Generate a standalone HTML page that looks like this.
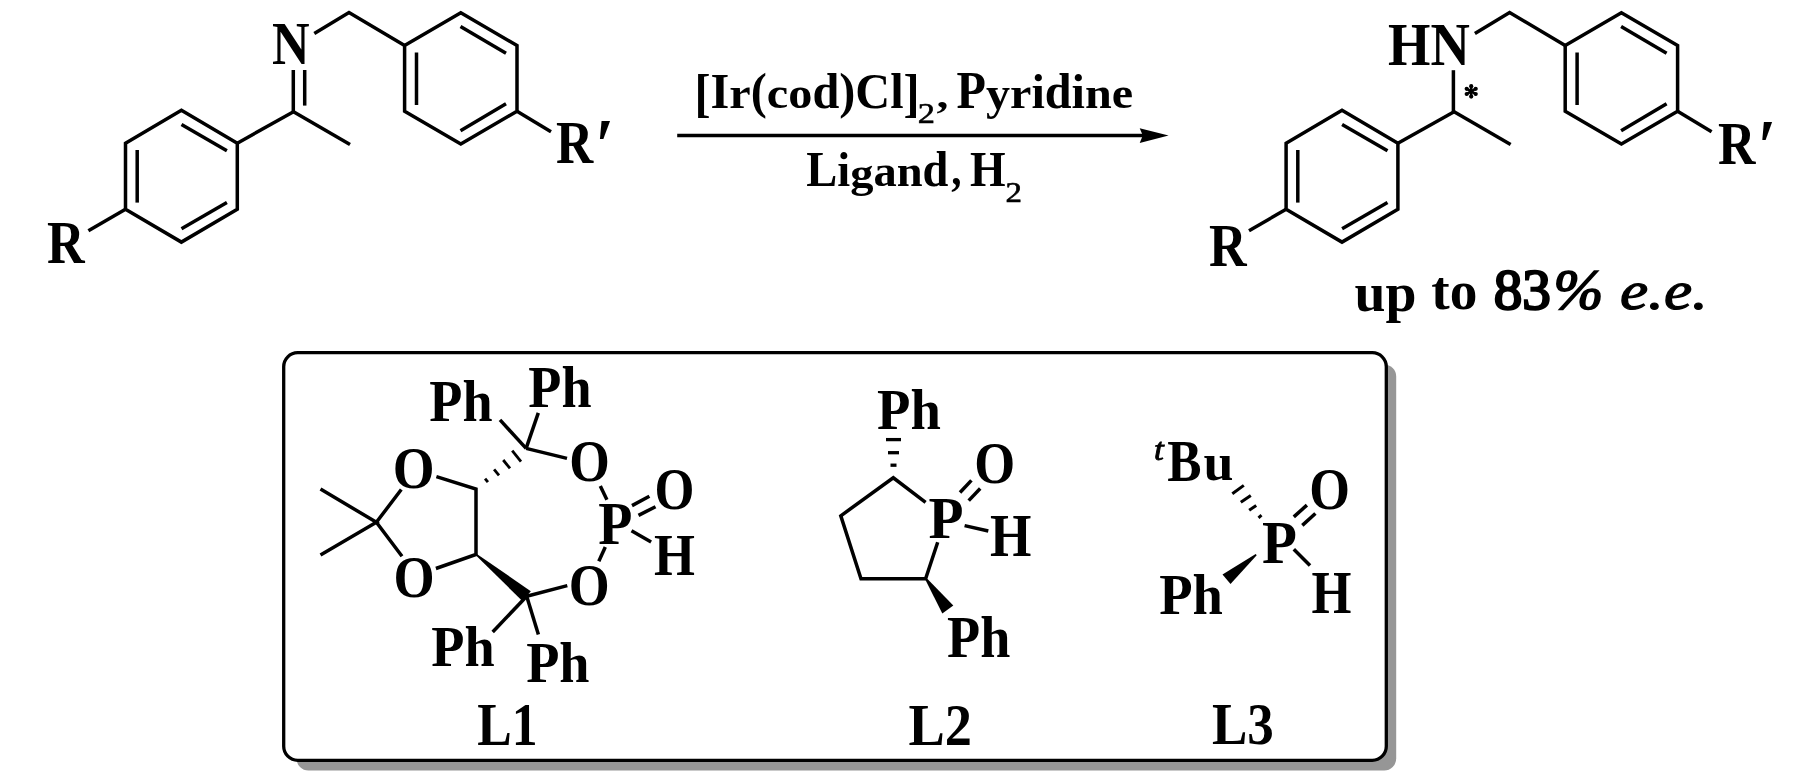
<!DOCTYPE html>
<html><head><meta charset="utf-8"><style>
html,body{margin:0;padding:0;background:#fff;overflow:hidden;width:1819px;height:780px;}
svg{display:block;will-change:transform;}
text{font-family:"Liberation Serif", serif;fill:#000;stroke:none;}
</style></head><body>
<svg width="1819" height="780" viewBox="0 0 1819 780">
<rect x="0" y="0" width="1819" height="780" fill="#fff"/>
<g stroke="#000" fill="none">
<rect x="296.5" y="364.5" width="1099.7" height="406" rx="12" ry="12" fill="#969696" stroke="none"/><rect x="283.7" y="352.7" width="1102.6" height="407.6" rx="14" ry="14" fill="#fff" stroke="#000" stroke-width="3.3"/>
<polygon points="181.4,110.3 237.3,143.2 237.3,209.2 181.4,242.1 125.5,209.2 125.5,143.2" fill="none" stroke-width="3.5" stroke-linejoin="miter"/>
<line x1="137.2" y1="150.0" x2="137.2" y2="202.6" stroke-width="3.5" stroke-linecap="butt"/>
<line x1="181.5" y1="124.4" x2="226.9" y2="150.8" stroke-width="3.5" stroke-linecap="butt"/>
<line x1="181.5" y1="228.7" x2="226.9" y2="202.6" stroke-width="3.5" stroke-linecap="butt"/>
<polygon points="460.8,12.8 517.0,45.6 517.0,111.2 460.8,144.0 404.6,111.2 404.6,45.6" fill="none" stroke-width="3.5" stroke-linejoin="miter"/>
<line x1="416.5" y1="52.5" x2="416.5" y2="105.0" stroke-width="3.5" stroke-linecap="butt"/>
<line x1="460.5" y1="26.4" x2="506.0" y2="53.3" stroke-width="3.5" stroke-linecap="butt"/>
<line x1="460.5" y1="130.8" x2="506.0" y2="103.8" stroke-width="3.5" stroke-linecap="butt"/>
<line x1="125.5" y1="209.2" x2="88.4" y2="230.8" stroke-width="3.5" stroke-linecap="butt"/>
<line x1="517.0" y1="111.2" x2="551.0" y2="131.7" stroke-width="3.5" stroke-linecap="butt"/>
<line x1="237.3" y1="143.2" x2="293.5" y2="111.8" stroke-width="3.5" stroke-linecap="butt"/>
<line x1="293.5" y1="111.8" x2="350.0" y2="144.5" stroke-width="3.5" stroke-linecap="butt"/>
<polyline points="314.3,33.5 349.0,12.5 404.6,45.6" fill="none" stroke-width="3.5" stroke-linejoin="miter"/>
<line x1="293.3" y1="70.0" x2="293.3" y2="112.5" stroke-width="3.5" stroke-linecap="butt"/>
<line x1="304.7" y1="70.0" x2="304.7" y2="105.6" stroke-width="3.5" stroke-linecap="butt"/>
<text transform="translate(272.01,64.00) scale(0.8496,1)" font-size="61.24" font-weight="bold" font-style="normal">N</text>
<text transform="translate(46.91,263.10) scale(0.8530,1)" font-size="61.09" font-weight="bold" font-style="normal">R</text>
<text transform="translate(556.12,162.80) scale(0.8460,1)" font-size="60.94" font-weight="bold" font-style="normal">R</text>
<text transform="translate(595.56,171.18) scale(0.8791,1)" font-size="76.64" font-weight="bold" font-style="normal">′</text>
<polygon points="1342.0,110.3 1397.9,143.2 1397.9,209.2 1342.0,242.1 1286.1,209.2 1286.1,143.2" fill="none" stroke-width="3.5" stroke-linejoin="miter"/>
<line x1="1297.8" y1="150.0" x2="1297.8" y2="202.6" stroke-width="3.5" stroke-linecap="butt"/>
<line x1="1342.1" y1="124.4" x2="1387.5" y2="150.8" stroke-width="3.5" stroke-linecap="butt"/>
<line x1="1342.1" y1="228.7" x2="1387.5" y2="202.6" stroke-width="3.5" stroke-linecap="butt"/>
<polygon points="1621.4,12.8 1677.6,45.6 1677.6,111.2 1621.4,144.0 1565.2,111.2 1565.2,45.6" fill="none" stroke-width="3.5" stroke-linejoin="miter"/>
<line x1="1577.1" y1="52.5" x2="1577.1" y2="105.0" stroke-width="3.5" stroke-linecap="butt"/>
<line x1="1621.1" y1="26.4" x2="1666.6" y2="53.3" stroke-width="3.5" stroke-linecap="butt"/>
<line x1="1621.1" y1="130.8" x2="1666.6" y2="103.8" stroke-width="3.5" stroke-linecap="butt"/>
<line x1="1286.1" y1="209.2" x2="1249.0" y2="230.8" stroke-width="3.5" stroke-linecap="butt"/>
<line x1="1677.6" y1="111.2" x2="1711.6" y2="131.7" stroke-width="3.5" stroke-linecap="butt"/>
<line x1="1397.9" y1="143.2" x2="1454.1" y2="111.8" stroke-width="3.5" stroke-linecap="butt"/>
<line x1="1454.1" y1="111.8" x2="1510.6" y2="144.5" stroke-width="3.5" stroke-linecap="butt"/>
<polyline points="1474.9,33.5 1509.6,12.5 1565.2,45.6" fill="none" stroke-width="3.5" stroke-linejoin="miter"/>
<line x1="1453.4" y1="70.2" x2="1453.4" y2="112.5" stroke-width="3.5" stroke-linecap="butt"/>
<text transform="translate(1388.07,65.20) scale(0.8833,1)" font-size="61.70" font-weight="bold" font-style="normal">HN</text>
<line x1="1471.2" y1="85.1" x2="1471.2" y2="97.7" stroke-width="2.6" stroke-linecap="butt"/>
<circle cx="1471.20" cy="96.60" r="2.1" fill="#000" stroke="none"/>
<circle cx="1471.20" cy="86.20" r="2.1" fill="#000" stroke="none"/>
<line x1="1465.7" y1="88.2" x2="1476.7" y2="94.6" stroke-width="2.6" stroke-linecap="butt"/>
<circle cx="1475.70" cy="94.00" r="2.1" fill="#000" stroke="none"/>
<circle cx="1466.70" cy="88.80" r="2.1" fill="#000" stroke="none"/>
<line x1="1476.7" y1="88.2" x2="1465.7" y2="94.6" stroke-width="2.6" stroke-linecap="butt"/>
<circle cx="1466.70" cy="94.00" r="2.1" fill="#000" stroke="none"/>
<circle cx="1475.70" cy="88.80" r="2.1" fill="#000" stroke="none"/>
<text transform="translate(1209.01,265.80) scale(0.8616,1)" font-size="60.48" font-weight="bold" font-style="normal">R</text>
<text transform="translate(1718.11,163.80) scale(0.8527,1)" font-size="60.78" font-weight="bold" font-style="normal">R</text>
<text transform="translate(1757.89,171.80) scale(0.8578,1)" font-size="76.21" font-weight="bold" font-style="normal">′</text>
<line x1="677.2" y1="135.5" x2="1145.0" y2="135.5" stroke-width="3.3" stroke-linecap="butt"/>
<polygon points="1168.6,135.5 1139.7,128.2 1142.8,135.5 1139.7,143.0" fill="#000" stroke="none"/>
<text transform="translate(694.42,110.82) scale(0.9411,1.0313)" font-size="51.31" font-weight="bold" font-style="normal">[</text>
<text transform="translate(710.50,107.70) scale(0.9411,1.0000)" font-size="51.31" font-weight="bold" font-style="normal">I</text>
<text transform="translate(729.29,107.70) scale(0.9411,0.8558)" font-size="51.31" font-weight="bold" font-style="normal">r</text>
<text transform="translate(750.72,107.84) scale(0.9411,1.0037)" font-size="51.31" font-weight="bold" font-style="normal">(</text>
<text transform="translate(766.80,107.70) scale(0.9411,0.8603)" font-size="51.31" font-weight="bold" font-style="normal">c</text>
<text transform="translate(788.23,107.70) scale(0.9411,0.8603)" font-size="51.31" font-weight="bold" font-style="normal">o</text>
<text transform="translate(812.38,107.70) scale(0.9411,0.9915)" font-size="51.31" font-weight="bold" font-style="normal">d</text>
<text transform="translate(839.23,107.84) scale(0.9411,1.0037)" font-size="51.31" font-weight="bold" font-style="normal">)</text>
<text transform="translate(855.31,107.70) scale(0.9411,0.9890)" font-size="51.31" font-weight="bold" font-style="normal">C</text>
<text transform="translate(890.19,107.70) scale(0.9411,0.9915)" font-size="51.31" font-weight="bold" font-style="normal">l</text>
<text transform="translate(903.60,110.82) scale(0.9411,1.0313)" font-size="51.31" font-weight="bold" font-style="normal">]</text>
<text transform="translate(917.74,122.85) scale(1.1689,1)" font-size="29.45" font-weight="normal" font-style="normal" style="stroke:#000;stroke-width:0.60px">2</text>
<text transform="translate(936.57,107.90) scale(1.2766,1)" font-size="37.45" font-weight="bold" font-style="normal">,</text>
<text transform="translate(956.58,107.70) scale(0.9302,1.0000)" font-size="51.77" font-weight="bold" font-style="normal">P</text>
<text transform="translate(985.99,108.60) scale(0.9302,0.9131)" font-size="51.77" font-weight="bold" font-style="normal">y</text>
<text transform="translate(1010.07,107.70) scale(0.9302,0.8483)" font-size="51.77" font-weight="bold" font-style="normal">r</text>
<text transform="translate(1031.45,107.70) scale(0.9302,0.9354)" font-size="51.77" font-weight="bold" font-style="normal">i</text>
<text transform="translate(1044.83,107.70) scale(0.9302,0.9827)" font-size="51.77" font-weight="bold" font-style="normal">d</text>
<text transform="translate(1071.61,107.70) scale(0.9302,0.9354)" font-size="51.77" font-weight="bold" font-style="normal">i</text>
<text transform="translate(1084.99,107.70) scale(0.9302,0.8527)" font-size="51.77" font-weight="bold" font-style="normal">n</text>
<text transform="translate(1111.77,107.70) scale(0.9302,0.8544)" font-size="51.77" font-weight="bold" font-style="normal">e</text>
<text transform="translate(806.20,185.80) scale(0.9012,1.0000)" font-size="51.62" font-weight="bold" font-style="normal">L</text>
<text transform="translate(837.23,185.80) scale(0.9012,0.9437)" font-size="51.62" font-weight="bold" font-style="normal">i</text>
<text transform="translate(850.16,186.92) scale(0.9012,0.8236)" font-size="51.62" font-weight="bold" font-style="normal">g</text>
<text transform="translate(873.42,185.80) scale(0.9012,0.8546)" font-size="51.62" font-weight="bold" font-style="normal">a</text>
<text transform="translate(896.68,185.80) scale(0.9012,0.8511)" font-size="51.62" font-weight="bold" font-style="normal">n</text>
<text transform="translate(922.55,185.80) scale(0.9012,0.9968)" font-size="51.62" font-weight="bold" font-style="normal">d</text>
<text transform="translate(951.16,185.37) scale(0.8958,1)" font-size="46.06" font-weight="bold" font-style="normal">,</text>
<text transform="translate(969.92,185.80) scale(0.8877,1)" font-size="51.62" font-weight="bold" font-style="normal">H</text>
<text transform="translate(1005.60,202.25) scale(1.1180,1)" font-size="29.45" font-weight="normal" font-style="normal" style="stroke:#000;stroke-width:0.63px">2</text>
<text transform="translate(1354.56,310.94) scale(1.0009,1)" font-size="55.70" font-weight="bold" font-style="normal">up</text>
<text transform="translate(1431.21,309.47) scale(1.0159,1)" font-size="54.47" font-weight="bold" font-style="normal">to</text>
<text transform="translate(1493.77,309.09) scale(0.9951,1)" font-size="57.50" font-weight="normal" font-style="normal" style="stroke:#000;stroke-width:2.31px">83</text>
<text transform="translate(1553.38,309.14) scale(1.0325,1)" font-size="57.95" font-weight="normal" font-style="italic" style="stroke:#000;stroke-width:1.74px">%</text>
<text transform="translate(1619.95,309.33) scale(1.1655,1)" font-size="54.39" font-weight="normal" font-style="italic" style="stroke:#000;stroke-width:1.20px">e.e.</text>
<polyline points="320.5,489.0 376.4,522.3 320.5,555.1" fill="none" stroke-width="3.5" stroke-linejoin="miter"/>
<polyline points="401.3,489.5 376.4,522.3 402.0,556.2" fill="none" stroke-width="3.5" stroke-linejoin="miter"/>
<text transform="translate(392.77,487.92) scale(0.9038,1)" font-size="59.53" font-weight="bold" font-style="normal">O</text>
<text transform="translate(393.42,597.42) scale(0.8890,1)" font-size="59.53" font-weight="bold" font-style="normal">O</text>
<polyline points="436.4,476.7 476.0,489.0 476.0,554.4 435.9,568.5" fill="none" stroke-width="3.5" stroke-linejoin="miter"/>
<line x1="526.1" y1="448.4" x2="500.0" y2="419.9" stroke-width="3.5" stroke-linecap="butt"/>
<line x1="526.1" y1="448.4" x2="538.3" y2="412.9" stroke-width="3.5" stroke-linecap="butt"/>
<line x1="526.1" y1="448.4" x2="567.0" y2="458.4" stroke-width="3.5" stroke-linecap="butt"/>
<line x1="485.1" y1="478.7" x2="487.9" y2="482.2" stroke-width="2.8" stroke-linecap="butt"/>
<line x1="494.1" y1="469.4" x2="499.0" y2="475.3" stroke-width="2.8" stroke-linecap="butt"/>
<line x1="503.2" y1="460.0" x2="510.0" y2="468.4" stroke-width="2.8" stroke-linecap="butt"/>
<line x1="512.2" y1="450.7" x2="521.0" y2="461.6" stroke-width="2.8" stroke-linecap="butt"/>
<text transform="translate(569.15,480.82) scale(0.8811,1)" font-size="59.24" font-weight="bold" font-style="normal">O</text>
<line x1="600.3" y1="486.0" x2="606.9" y2="499.7" stroke-width="3.5" stroke-linecap="butt"/>
<text transform="translate(598.24,543.70) scale(0.9218,1)" font-size="60.63" font-weight="bold" font-style="normal">P</text>
<line x1="605.3" y1="547.0" x2="598.8" y2="561.2" stroke-width="3.5" stroke-linecap="butt"/>
<text transform="translate(568.83,605.12) scale(0.8841,1)" font-size="59.53" font-weight="bold" font-style="normal">O</text>
<line x1="567.3" y1="585.6" x2="526.7" y2="596.2" stroke-width="3.5" stroke-linecap="butt"/>
<polygon points="475.5,555.0 476.5,553.8 530.8,591.2 522.6,601.2" fill="#000" stroke="none"/>
<line x1="526.7" y1="596.2" x2="492.7" y2="632.0" stroke-width="3.5" stroke-linecap="butt"/>
<line x1="526.7" y1="596.2" x2="538.4" y2="634.5" stroke-width="3.5" stroke-linecap="butt"/>
<text transform="translate(431.37,666.20) scale(0.9658,1)" font-size="56.21" font-weight="bold" font-style="normal">Ph</text>
<text transform="translate(526.17,681.60) scale(0.9416,1)" font-size="57.65" font-weight="bold" font-style="normal">Ph</text>
<text transform="translate(528.37,407.20) scale(0.9262,1)" font-size="58.51" font-weight="bold" font-style="normal">Ph</text>
<text transform="translate(429.37,420.50) scale(0.9262,1)" font-size="58.51" font-weight="bold" font-style="normal">Ph</text>
<line x1="632.0" y1="505.6" x2="649.4" y2="496.2" stroke-width="3.5" stroke-linecap="butt"/>
<line x1="638.5" y1="515.4" x2="655.5" y2="506.7" stroke-width="3.5" stroke-linecap="butt"/>
<text transform="translate(654.49,508.72) scale(0.8684,1)" font-size="59.09" font-weight="bold" font-style="normal">O</text>
<line x1="631.5" y1="530.7" x2="651.1" y2="542.0" stroke-width="3.5" stroke-linecap="butt"/>
<text transform="translate(653.90,574.70) scale(0.8777,1)" font-size="60.02" font-weight="bold" font-style="normal">H</text>
<text transform="translate(477.22,744.90) scale(0.8515,1)" font-size="60.74" font-weight="bold" font-style="normal">L1</text>
<text transform="translate(877.07,428.50) scale(0.9525,1)" font-size="57.36" font-weight="bold" font-style="normal">Ph</text>
<line x1="886.0" y1="439.6" x2="901.0" y2="439.6" stroke-width="3.3" stroke-linecap="butt"/>
<line x1="888.0" y1="452.7" x2="899.0" y2="452.7" stroke-width="3.3" stroke-linecap="butt"/>
<line x1="890.5" y1="465.2" x2="896.5" y2="465.2" stroke-width="3.3" stroke-linecap="butt"/>
<polyline points="925.6,502.3 893.3,477.8 840.8,515.8 861.0,578.7 925.6,578.7 937.7,542.3" fill="none" stroke-width="3.5" stroke-linejoin="miter"/>
<text transform="translate(928.62,538.30) scale(0.9746,1)" font-size="58.80" font-weight="bold" font-style="normal">P</text>
<text transform="translate(974.13,483.02) scale(0.8930,1)" font-size="58.94" font-weight="bold" font-style="normal">O</text>
<text transform="translate(990.09,556.30) scale(0.8799,1)" font-size="60.48" font-weight="bold" font-style="normal">H</text>
<line x1="960.0" y1="492.5" x2="971.4" y2="480.4" stroke-width="3.5" stroke-linecap="butt"/>
<line x1="968.7" y1="500.6" x2="980.2" y2="488.5" stroke-width="3.5" stroke-linecap="butt"/>
<line x1="964.6" y1="525.6" x2="988.3" y2="531.0" stroke-width="3.5" stroke-linecap="butt"/>
<polygon points="924.9,578.8 926.3,577.8 953.3,605.6 942.3,613.4" fill="#000" stroke="none"/>
<text transform="translate(947.07,657.40) scale(0.9172,1)" font-size="59.09" font-weight="bold" font-style="normal">Ph</text>
<text transform="translate(908.57,744.60) scale(0.9070,1)" font-size="59.96" font-weight="bold" font-style="normal">L2</text>
<text transform="translate(1154.06,460.00) scale(1.1343,1)" font-size="30.90" font-weight="normal" font-style="italic" style="stroke:#000;stroke-width:0.88px">t</text>
<text transform="translate(1167.15,480.52) scale(0.8537,1)" font-size="60.21" font-weight="bold" font-style="normal">B</text>
<text transform="translate(1203.38,480.06) scale(1.0277,1)" font-size="52.42" font-weight="bold" font-style="normal">u</text>
<text transform="translate(1262.12,562.60) scale(0.9469,1)" font-size="60.33" font-weight="bold" font-style="normal">P</text>
<text transform="translate(1309.24,508.92) scale(0.8880,1)" font-size="58.94" font-weight="bold" font-style="normal">O</text>
<text transform="translate(1311.52,613.10) scale(0.8488,1)" font-size="60.48" font-weight="bold" font-style="normal">H</text>
<text transform="translate(1159.27,613.70) scale(0.9415,1)" font-size="57.94" font-weight="bold" font-style="normal">Ph</text>
<line x1="1258.5" y1="517.8" x2="1261.5" y2="515.2" stroke-width="3.0" stroke-linecap="butt"/>
<line x1="1249.2" y1="510.3" x2="1256.2" y2="505.4" stroke-width="3.0" stroke-linecap="butt"/>
<line x1="1240.8" y1="502.3" x2="1250.8" y2="495.4" stroke-width="3.0" stroke-linecap="butt"/>
<line x1="1232.3" y1="493.8" x2="1243.8" y2="485.4" stroke-width="3.0" stroke-linecap="butt"/>
<polygon points="1255.7,554.0 1256.7,555.2 1230.5,584.0 1222.5,574.4" fill="#000" stroke="none"/>
<line x1="1293.8" y1="516.9" x2="1306.9" y2="505.1" stroke-width="3.5" stroke-linecap="butt"/>
<line x1="1302.3" y1="525.4" x2="1315.4" y2="513.5" stroke-width="3.5" stroke-linecap="butt"/>
<line x1="1293.8" y1="549.2" x2="1310.0" y2="565.4" stroke-width="3.5" stroke-linecap="butt"/>
<text transform="translate(1211.99,744.22) scale(0.8912,1)" font-size="59.53" font-weight="bold" font-style="normal">L3</text>
</g>
</svg>
</body></html>
